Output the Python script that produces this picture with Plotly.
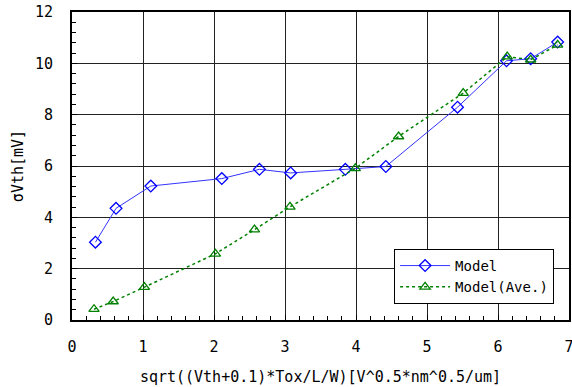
import plotly.graph_objects as go

# Threshold-voltage mismatch vs. normalized device-size parameter
model_x = [0.33, 0.62, 1.11, 2.11, 2.64, 3.08, 3.85, 4.42, 5.43, 6.12, 6.46, 6.84]
model_y = [3.03, 4.35, 5.22, 5.51, 5.87, 5.73, 5.87, 5.98, 8.29, 10.10, 10.18, 10.83]

ave_x = [0.31, 0.58, 1.02, 2.02, 2.57, 3.07, 3.99, 4.60, 5.51, 6.13, 6.46, 6.84]
ave_y = [0.42, 0.72, 1.28, 2.58, 3.52, 4.41, 5.91, 7.15, 8.84, 10.26, 10.14, 10.72]

x_ticks = [0, 1, 2, 3, 4, 5, 6, 7]
y_ticks = [0, 2, 4, 6, 8, 10, 12]

FONT = "DejaVu Sans Mono"

fig = go.Figure()
fig.add_trace(go.Scatter(
    x=model_x, y=model_y, name="Model", mode="lines+markers",
    line=dict(color="#3333ff", width=1),
    marker=dict(symbol="diamond-open", size=9, color="#0000ff", line=dict(width=1.3)),
))
fig.add_trace(go.Scatter(
    x=ave_x, y=ave_y, name="Model(Ave.)", mode="lines+markers",
    line=dict(color="#008000", width=1.5, dash="dot"),
    marker=dict(symbol="triangle-up-open", size=9, color="#008000", line=dict(width=1.3)),
))

axis_common = dict(
    showline=True, linecolor="black", linewidth=2, mirror=True,
    showgrid=True, gridcolor="#222222", gridwidth=1,
    zeroline=False, ticks="inside", ticklen=5, tickcolor="black",
    tickfont=dict(family=FONT, size=15, color="black"),
    automargin=False, ticklabeloverflow="allow",
)

fig.update_xaxes(
    range=[0, 7], tickvals=x_ticks, ticklabelstandoff=12, **axis_common,
    minor=dict(dtick=0.2, ticks="inside", ticklen=4, tickcolor="black", showgrid=False),
    title=dict(text="sqrt((Vth+0.1)*Tox/L/W)[V^0.5*nm^0.5/um]",
               font=dict(family=FONT, size=15, color="black"), standoff=16),
)
fig.update_yaxes(
    range=[0, 12], tickvals=y_ticks, ticklabelstandoff=14, **axis_common,
    minor=dict(dtick=0.4, ticks="inside", ticklen=4, tickcolor="black", showgrid=False),
    title=dict(text="σVth[mV]", font=dict(family=FONT, size=15, color="black"), standoff=8),
)

fig.update_layout(
    width=572, height=387,
    margin=dict(l=72, r=3, t=12, b=67),
    paper_bgcolor="white", plot_bgcolor="white",
    showlegend=True,
    legend=dict(
        x=0.97, y=0.052, xanchor="right", yanchor="bottom",
        bgcolor="white", bordercolor="black", borderwidth=1,
        font=dict(family=FONT, size=14, color="black"),
        tracegroupgap=0, itemwidth=50,
    ),
)

fig.write_html("out.html")
